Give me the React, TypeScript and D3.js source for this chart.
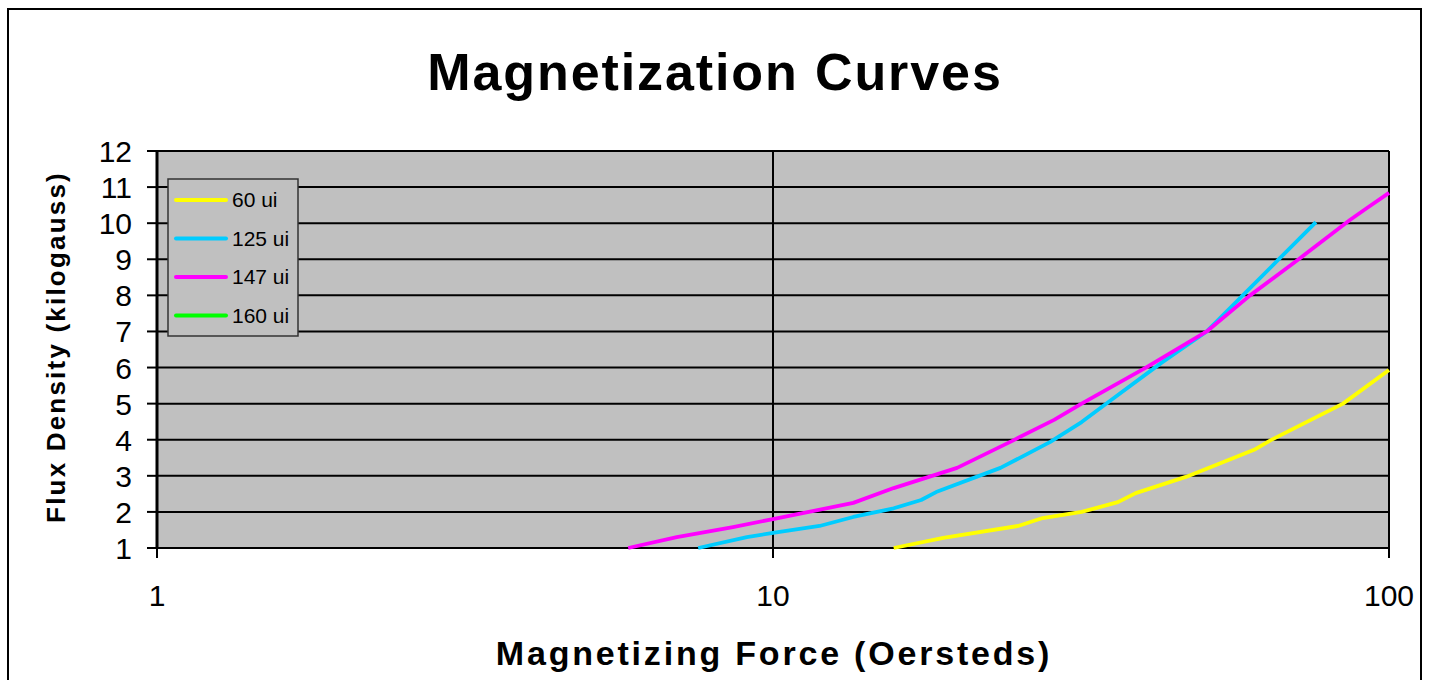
import React from "react";
import * as d3 from "d3";

const WIDTH = 1430;
const HEIGHT = 680;
const plot = { left: 157, right: 1389, top: 151, bottom: 548 };

// magnetizing force (Oe) and flux density (kG) per series
const h60 = [15.7, 18.9, 25.0, 27.4, 31.7, 36.3, 38.8, 46.8, 60.4, 64.3, 84.2, 100];
const b60 = [1, 1.28, 1.61, 1.83, 2.0, 2.27, 2.52, 2.97, 3.72, 3.99, 5.0, 5.93];

const h125 = [7.56, 9.07, 10, 11.9, 13.5, 15.7, 17.4, 18.4, 23.4, 28.2, 31.7, 35.4, 42.7, 50.6, 57.9, 66.5, 76.1];
const b125 = [1, 1.3, 1.42, 1.61, 1.86, 2.1, 2.33, 2.55, 3.22, 3.94, 4.49, 5.1, 6.13, 7.0, 8.0, 9.03, 10.03];

const h147 = [5.82, 6.98, 8.61, 10, 13.5, 15.7, 19.9, 24.6, 28.6, 31.7, 40.3, 50.6, 59.5, 71.7, 86.4, 92.1, 100];
const b147 = [1, 1.3, 1.58, 1.8, 2.25, 2.66, 3.22, 3.99, 4.55, 5.0, 6.0, 7.0, 8.0, 9.03, 10.09, 10.42, 10.84];

const h160: number[] = [];
const b160: number[] = [];

const seriesNames = ["60 ui", "125 ui", "147 ui", "160 ui"];
const seriesColors = ["#ffff00", "#00ccff", "#ff00ff", "#00ff00"];
const seriesH = [h60, h125, h147, h160];
const seriesB = [b60, b125, b147, b160];

const yTicks = [1, 2, 3, 4, 5, 6, 7, 8, 9, 10, 11, 12];
const xTicks = [1, 10, 100];

const xScale = d3.scaleLog().domain([1, 100]).range([plot.left, plot.right]);
const yScale = d3.scaleLinear().domain([1, 12]).range([plot.bottom, plot.top]);

const line = d3
  .line<[number, number]>()
  .x((d) => xScale(d[0]))
  .y((d) => yScale(d[1]));

export default function App() {
  const font = "Arial, 'Liberation Sans', sans-serif";
  return (
    <svg
      width={WIDTH}
      height={HEIGHT}
      style={{ position: "absolute", left: 0, top: 0, background: "#fff" }}
      fontFamily={font}
    >
      {/* outer chart frame */}
      <rect x={8} y={9} width={1413} height={700} fill="none" stroke="#000" strokeWidth={2} />

      <text x={715} y={90} textAnchor="middle" fontSize={52} fontWeight="bold" letterSpacing={1.9}>
        Magnetization Curves
      </text>

      {/* plot area */}
      <rect
        x={plot.left}
        y={plot.top}
        width={plot.right - plot.left}
        height={plot.bottom - plot.top}
        fill="#c0c0c0"
      />

      {yTicks.map((t) => (
        <g key={t}>
          <line x1={plot.left} x2={plot.right} y1={yScale(t)} y2={yScale(t)} stroke="#000" strokeWidth={2} />
          <line x1={147} x2={plot.left} y1={yScale(t)} y2={yScale(t)} stroke="#000" strokeWidth={2} />
          <text x={132} y={yScale(t) + 11} textAnchor="end" fontSize={30}>
            {t}
          </text>
        </g>
      ))}

      {xTicks.map((t) => (
        <g key={t}>
          <line x1={xScale(t)} x2={xScale(t)} y1={plot.top} y2={plot.bottom + 10} stroke="#000" strokeWidth={2} />
          <text x={xScale(t)} y={606} textAnchor="middle" fontSize={30}>
            {t}
          </text>
        </g>
      ))}
      <line x1={plot.left} x2={plot.left} y1={plot.top} y2={plot.bottom} stroke="#000" strokeWidth={3} />

      {seriesNames.map((name, i) => {
        const pts = seriesH[i].map((h, j) => [h, seriesB[i][j]] as [number, number]);
        if (!pts.length) return null;
        return (
          <path
            key={name}
            d={line(pts) ?? ""}
            fill="none"
            stroke={seriesColors[i]}
            strokeWidth={3.8}
            strokeLinejoin="round"
          />
        );
      })}

      {/* legend */}
      <rect x={168} y={179} width={130} height={157} fill="#c0c0c0" stroke="#333" strokeWidth={1.5} />
      {seriesNames.map((name, i) => {
        const y = 200 + i * 38.5;
        return (
          <g key={name}>
            <line x1={176} x2={226} y1={y} y2={y} stroke={seriesColors[i]} strokeWidth={4} strokeLinecap="round" />
            <text x={232} y={y + 7} fontSize={21}>
              {name}
            </text>
          </g>
        );
      })}

      <text x={774} y={665} textAnchor="middle" fontSize={34} fontWeight="bold" letterSpacing={2.8}>
        Magnetizing Force (Oersteds)
      </text>

      <text
        transform="translate(65, 347) rotate(-90)"
        textAnchor="middle"
        fontSize={26}
        fontWeight="bold"
        letterSpacing={2.2}
      >
        Flux Density (kilogauss)
      </text>
    </svg>
  );
}
